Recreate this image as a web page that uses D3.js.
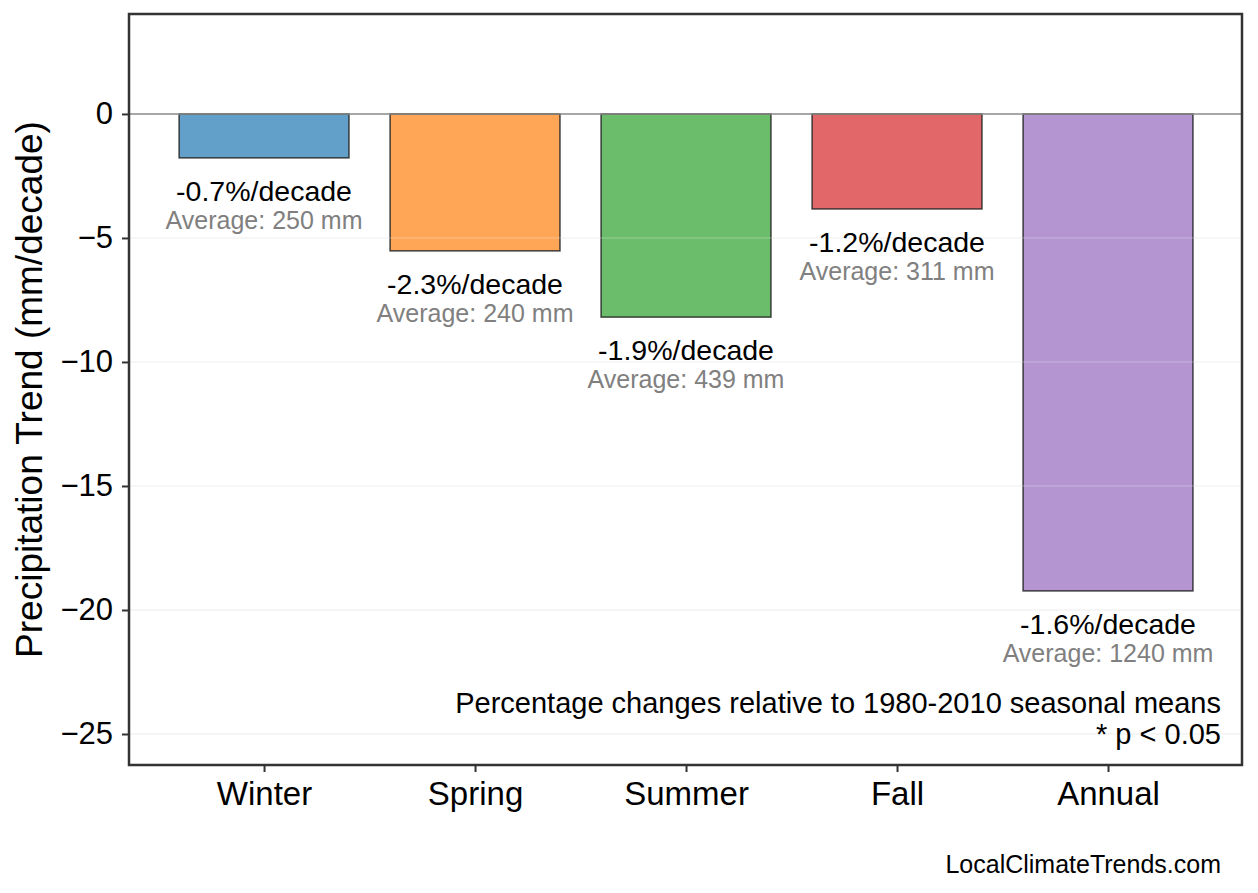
<!DOCTYPE html>
<html><head><meta charset="utf-8">
<script src="https://cdn.jsdelivr.net/npm/d3@7"></script>
<style>body{margin:0;background:#fff;}svg{display:block;font-family:"Liberation Sans",Arial,Helvetica,sans-serif;}</style>
</head><body>
<svg id="c" width="1258" height="893"></svg>
<script>
const categories = ["Winter","Spring","Summer","Fall","Annual"];
const trends = [-1.77, -5.52, -8.19, -3.83, -19.23];
const pctLabels = ["-0.7%/decade","-2.3%/decade","-1.9%/decade","-1.2%/decade","-1.6%/decade"];
const averages = ["Average: 250 mm","Average: 240 mm","Average: 439 mm","Average: 311 mm","Average: 1240 mm"];
const colors = ["#1f77b4","#ff7f0e","#2ca02c","#d62728","#9467bd"];
const yTicks = [0,-5,-10,-15,-20,-25];

const svg = d3.select("#c");
const L=129, R=1242, T=14, B=765;
const x = d3.scaleLinear().domain([-0.64, 4.635]).range([L, R]);
const y = d3.scaleLinear().domain([4.03, -26.25]).range([T, B]);
const bw = 0.805;
const FF = "Liberation Sans, Arial, sans-serif";

// grid
svg.append("g").selectAll("line").data(yTicks.filter(d=>d!==0)).join("line")
  .attr("x1",L).attr("x2",R).attr("y1",d=>y(d)).attr("y2",d=>y(d))
  .attr("stroke","#ebebeb").attr("stroke-width",1);

// bars
svg.append("g").selectAll("rect").data(categories).join("rect")
  .attr("x",(d,i)=>x(i-bw/2)).attr("width",x(bw)-x(0))
  .attr("y",y(0)).attr("height",(d,i)=>y(trends[i])-y(0))
  .attr("fill",(d,i)=>colors[i]).attr("fill-opacity",0.7)
  .attr("stroke","#222").attr("stroke-opacity",0.85).attr("stroke-width",1.5);

// grid over bars (faint)
svg.append("g").selectAll("line").data(yTicks.filter(d=>d!==0)).join("line")
  .attr("x1",L).attr("x2",R).attr("y1",d=>y(d)).attr("y2",d=>y(d))
  .attr("stroke","#ffffff").attr("stroke-opacity",0.35).attr("stroke-width",1);

// zero line
svg.append("line").attr("x1",L).attr("x2",R).attr("y1",y(0)).attr("y2",y(0))
  .attr("stroke","#8a8a8a").attr("stroke-width",1.5);

// labels
const lg = svg.append("g").attr("text-anchor","middle");
categories.forEach((c,i)=>{
  const yb = y(trends[i]);
  lg.append("text").attr("x",x(i)).attr("y",yb+43).attr("font-size",28.5).attr("fill","#000").text(pctLabels[i]);
  lg.append("text").attr("x",x(i)).attr("y",yb+71).attr("font-size",25).attr("fill","#808080").text(averages[i]);
});

// axes
const yAxis = svg.append("g").attr("transform",`translate(${L},0)`)
  .call(d3.axisLeft(y).tickValues(yTicks).tickSize(7).tickPadding(9).tickFormat(d=>d<0?"\u2212"+Math.abs(d):d));
yAxis.select(".domain").remove();
yAxis.selectAll("line").attr("stroke","#333").attr("stroke-width",2);
yAxis.selectAll("text").attr("font-size",31).attr("fill","#000").attr("font-family",FF);

const xAxis = svg.append("g").attr("transform",`translate(0,${B})`)
  .call(d3.axisBottom(x).tickValues(d3.range(categories.length)).tickSize(7).tickPadding(10).tickFormat(i=>categories[i]));
xAxis.select(".domain").remove();
xAxis.selectAll("line").attr("stroke","#333").attr("stroke-width",2);
xAxis.selectAll("text").attr("font-size",33).attr("fill","#000").attr("font-family",FF);

// frame
svg.append("rect").attr("x",L).attr("y",T).attr("width",R-L).attr("height",B-T)
  .attr("fill","none").attr("stroke","#333").attr("stroke-width",2.5);

// y title
svg.append("text").attr("transform",`translate(42,${(T+B)/2}) rotate(-90)`)
  .attr("text-anchor","middle").attr("font-size",37).attr("fill","#000")
  .text("Precipitation Trend (mm/decade)");

// notes
svg.append("text").attr("x",1221).attr("y",713).attr("text-anchor","end").attr("font-size",29).attr("fill","#000")
  .text("Percentage changes relative to 1980-2010 seasonal means");
svg.append("text").attr("x",1221).attr("y",744).attr("text-anchor","end").attr("font-size",29).attr("fill","#000")
  .text("* p < 0.05");
svg.append("text").attr("x",1221).attr("y",873).attr("text-anchor","end").attr("font-size",25).attr("fill","#000")
  .text("LocalClimateTrends.com");
</script>
</body></html>
